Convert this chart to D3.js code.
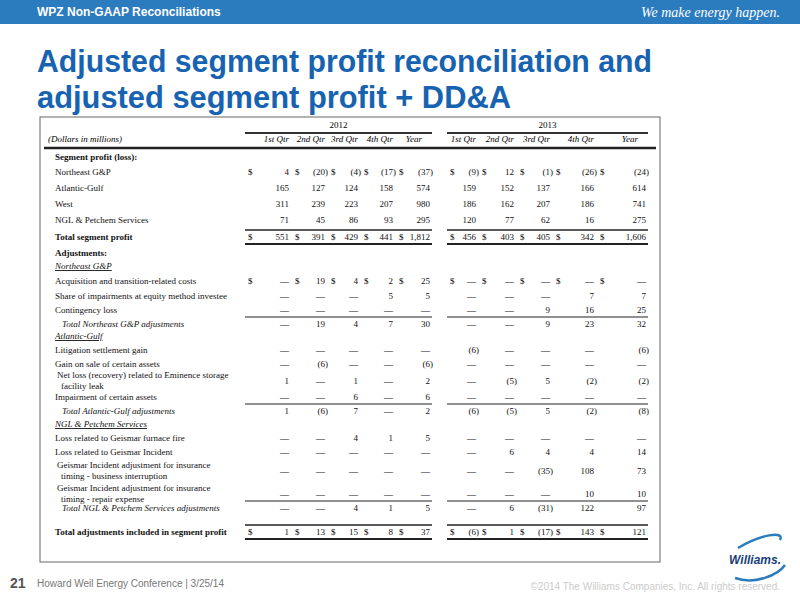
<!DOCTYPE html>
<html><head><meta charset="utf-8">
<script src="https://cdn.jsdelivr.net/npm/d3@7"></script>
<style>body{margin:0;background:#fff}</style>
</head><body>
<script>
// column headers
var years = ["2012", "2013"];
var quarters = ["1st Qtr", "2nd Qtr", "3rd Qtr", "4th Qtr", "Year"];

// rows: label, style, values (0 = dash)
var rowLabels = [
 "Segment profit (loss):", "Northeast G&P", "Atlantic-Gulf", "West", "NGL & Petchem Services", "Total segment profit",
 "Adjustments:", "Northeast G&P", "Acquisition and transition-related costs", "Share of impairments at equity method investee", "Contingency loss",
 "Total Northeast G&P adjustments", "Atlantic-Gulf", "Litigation settlement gain", "Gain on sale of certain assets",
 "Net loss (recovery) related to Eminence storage|facility leak", "Impairment of certain assets", "Total Atlantic-Gulf adjustments",
 "NGL & Petchem Services", "Loss related to Geismar furnace fire", "Loss related to Geismar Incident",
 "Geismar Incident adjustment for insurance|timing - business interruption", "Geismar Incident adjustment for insurance|timing - repair expense",
 "Total NGL & Petchem Services adjustments", "Total adjustments included in segment profit"];
var rowKinds = ["bold","plain","plain","plain","plain","total","bold","section","plain","plain","plain","subtotal","section","plain","plain",
 "plain2","plain","subtotal","section","plain","plain","plain2","plain2","subtotal","grand"];
var rowY = [160,175,191,207,223,240,256,269,284,299,313,327,339,353,367,384,400,414,427,441,455,474,497,511,535];
var rowValues = [
 null,
 [4,-20,-4,-17,-37,-9,12,-1,-26,-24],
 [165,127,124,158,574,159,152,137,166,614],
 [311,239,223,207,980,186,162,207,186,741],
 [71,45,86,93,295,120,77,62,16,275],
 [551,391,429,441,1812,456,403,405,342,1606],
 null, null,
 [0,19,4,2,25,0,0,0,0,0],
 [0,0,0,5,5,0,0,0,7,7],
 [0,0,0,0,0,0,0,9,16,25],
 [0,19,4,7,30,0,0,9,23,32],
 null,
 [0,0,0,0,0,-6,0,0,0,-6],
 [0,-6,0,0,-6,0,0,0,0,0],
 [1,0,1,0,2,0,-5,5,-2,-2],
 [0,0,6,0,6,0,0,0,0,0],
 [1,-6,7,0,2,-6,-5,5,-2,-8],
 null,
 [0,0,4,1,5,0,0,0,0,0],
 [0,0,0,0,0,0,6,4,4,14],
 [0,0,0,0,0,0,0,-35,108,73],
 [0,0,0,0,0,0,0,0,10,10],
 [0,0,4,1,5,0,6,-31,122,97],
 [1,13,15,8,37,-6,1,-17,143,121]];
var dollarRows = [1,5,8,24];

var W = 800, H = 600;
var svg = d3.select("body").append("svg").attr("width", W).attr("height", H);
var serif = "Liberation Serif, Times New Roman, serif";
var sans = "Liberation Sans, Arial, sans-serif";

// header bar
svg.append("rect").attr("x",0).attr("y",0).attr("width",W).attr("height",24).attr("fill","#2b7bbf");
svg.append("text").attr("x",37).attr("y",16).text("WPZ Non-GAAP Reconciliations")
 .attr("font-family",sans).attr("font-weight","bold").attr("font-size",12).attr("fill","#fff");
svg.append("text").attr("x",780).attr("y",17).attr("text-anchor","end").text("We make energy happen.")
 .attr("font-family",serif).attr("font-style","italic").attr("font-size",14).attr("fill","#fff");

// title
var title = ["Adjusted segment profit reconciliation and", "adjusted segment profit + DD&A"];
var tlen = [615, 474];
title.forEach(function(t,i){
 svg.append("text").attr("x",37).attr("y",72+i*36).text(t)
  .attr("font-family","Liberation Sans Narrow, "+sans).attr("font-weight","bold").attr("font-size",31)
  .attr("textLength",tlen[i]).attr("lengthAdjust","spacingAndGlyphs").attr("fill","#1763b1");
});

// table box
svg.append("rect").attr("x",40).attr("y",117).attr("width",620).attr("height",445)
 .attr("fill","none").attr("stroke","#666").attr("stroke-width",1);

// column scale
var colX = d3.scaleOrdinal().domain(d3.range(10)).range([289,325,358,393,430,476,514,550,594,646]);
var groups = [[245,432],[447,648]];

// year header
years.forEach(function(y,i){
 svg.append("text").attr("x",(groups[i][0]+groups[i][1])/2).attr("y",128).attr("text-anchor","middle").text(y)
  .attr("font-family",serif).attr("font-size",9);
 svg.append("line").attr("x1",groups[i][0]).attr("x2",groups[i][1]).attr("y1",133).attr("y2",133).attr("stroke","#333").attr("stroke-width",2);
});
svg.append("text").attr("x",48).attr("y",142).text("(Dollars in millions)").attr("font-family",serif).attr("font-style","italic").attr("font-size",9);
d3.range(10).forEach(function(i){
 svg.append("text").attr("x",colX(i)-(i%5==4?8:0)).attr("y",142).attr("text-anchor","end").text(quarters[i%5])
  .attr("font-family",serif).attr("font-style","italic").attr("font-size",9);
});
svg.append("line").attr("x1",44).attr("x2",656).attr("y1",148).attr("y2",148).attr("stroke","#222").attr("stroke-width",2.5);

function fmt(v){
 if (v === 0) return "\u2014";
 var s = d3.format(",")(Math.abs(v));
 return v < 0 ? "(" + s + ")" : s;
}

rowLabels.forEach(function(lab,r){
 var kind = rowKinds[r], y = rowY[r];
 var x = kind=="subtotal" ? 62 : (kind=="plain2" ? 57 : 55);
 var t = svg.append("text").attr("x",x).attr("y",y).attr("font-family",serif).attr("font-size",9).attr("fill","#111");
 if (kind=="bold"||kind=="grand") t.attr("font-weight","bold");
 if (kind=="total") { t.attr("font-weight","bold").attr("x",62); }
 if (kind=="subtotal") t.attr("font-style","italic");
 if (kind=="section") t.attr("font-style","italic").attr("text-decoration","underline");
 var parts = lab.split("|");
 parts.forEach(function(p,k){
  t.append("tspan").attr("x", k==0 ? x : x+4).attr("dy", k==0 ? (parts.length>1?-6:0) : 11).text(p);
 });
 var vals = rowValues[r];
 if (!vals) return;
 var dollar = dollarRows.indexOf(r) >= 0;
 vals.forEach(function(v,c){
  var neg = v < 0;
  svg.append("text").attr("x",colX(c) + (neg?3:0)).attr("y", y).attr("text-anchor","end").text(fmt(v))
   .attr("font-family",serif).attr("font-size",9).attr("fill","#111");
  if (dollar) {
   var dx = (c==0) ? 248 : (c==5 ? 450 : colX(c-1)+6);
   svg.append("text").attr("x",dx).attr("y",y).text("$").attr("font-family",serif).attr("font-size",9);
  }
 });
 // rules
 if (kind=="total"||kind=="subtotal"||kind=="grand") {
  groups.forEach(function(g){
   svg.append("line").attr("x1",g[0]).attr("x2",g[1]).attr("y1",y-10).attr("y2",y-10).attr("stroke","#222").attr("stroke-width",kind=="subtotal"?1.2:1.5);
   if (kind!="subtotal") svg.append("line").attr("x1",g[0]).attr("x2",g[1]).attr("y1",y+4).attr("y2",y+4).attr("stroke","#222").attr("stroke-width",2);
  });
 }
});

// footer
svg.append("text").attr("x",10).attr("y",588).text("21").attr("font-family",sans).attr("font-weight","bold").attr("font-size",14).attr("fill","#555");
svg.append("text").attr("x",37).attr("y",587).text("Howard Weil Energy Conference  |  3/25/14").attr("font-family",sans).attr("font-size",10).attr("fill","#777");
svg.append("text").attr("x",780).attr("y",590).attr("text-anchor","end").text("\u00a92014 The Williams Companies, Inc. All rights reserved.")
 .attr("font-family",sans).attr("font-size",10).attr("fill","#ccc");
svg.append("path").attr("d","M738,548 C760,535 785,530 780,540 M735,578 C755,585 778,575 785,565")
 .attr("fill","none").attr("stroke","#2b7bbf").attr("stroke-width",2.5);
svg.append("text").attr("x",781).attr("y",564).attr("text-anchor","end").text("Williams.")
 .attr("font-family",sans).attr("font-weight","bold").attr("font-style","italic").attr("font-size",12).attr("fill","#1a3f7a");
</script>
</body></html>
